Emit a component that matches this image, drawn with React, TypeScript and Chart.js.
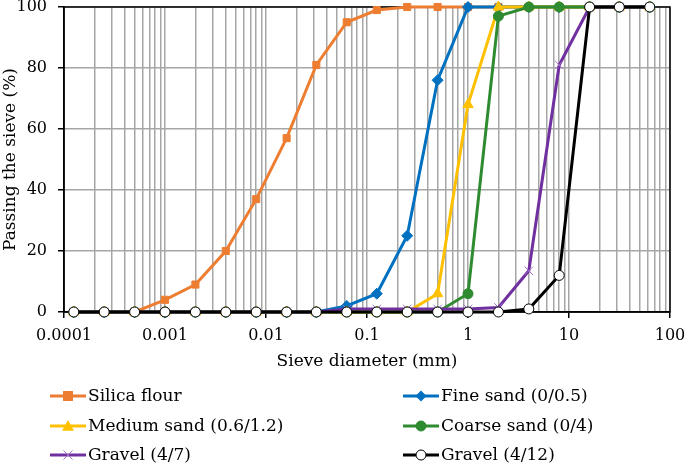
import React, { useEffect, useRef } from "react";
import { Chart, registerables } from "chart.js";

Chart.register(...registerables);

// ---------------- data ----------------
const sieveSizes = [
  0.000125, 0.00025, 0.0005, 0.001, 0.002, 0.004, 0.008, 0.016, 0.0315, 0.063,
  0.125, 0.25, 0.5, 1, 2, 4, 8, 16, 31.5, 63,
];
const seriesNames = [
  "Silica flour",
  "Fine sand (0/0.5)",
  "Medium sand (0.6/1.2)",
  "Coarse sand (0/4)",
  "Gravel (4/7)",
  "Gravel (4/12)",
];
const silicaFlour = [0, 0, 0, 4, 9, 20, 37, 57, 81, 95, 99, 100, 100, 100, 100, 100, 100, 100, 100, 100];
const fineSand = [0, 0, 0, 0, 0, 0, 0, 0, 0, 2, 6, 25, 76, 100, 100, 100, 100, 100, 100, 100];
const mediumSand = [0, 0, 0, 0, 0, 0, 0, 0, 0, 0, 0, 0, 6, 68, 100, 100, 100, 100, 100, 100];
const coarseSand = [0, 0, 0, 0, 0, 0, 0, 0, 0, 0, 0, 0, 0, 6, 97, 100, 100, 100, 100, 100];
const gravel47 = [0, 0, 0, 0, 0, 0, 0, 0, 0, 1, 1, 1, 1, 1, 1.5, 13.5, 81, 100, 100, 100];
const gravel412 = [0, 0, 0, 0, 0, 0, 0, 0, 0, 0, 0, 0, 0, 0, 0, 1, 12, 100, 100, 100];

const xDecades = [0.0001, 0.001, 0.01, 0.1, 1, 10, 100];
const xDecadeLabels = ["0.0001", "0.001", "0.01", "0.1", "1", "10", "100"];
const yTickValues = [0, 20, 40, 60, 80, 100];

const FONT_FAMILY = "'DejaVu Serif', serif";
const GRID = "#a6a6a6";

const isDecade = (v: number) => {
  const l = Math.log10(v);
  return Math.abs(l - Math.round(l)) < 1e-6;
};

const buildXTicks = () => {
  const out: { value: number }[] = [];
  for (let d = 0; d < xDecades.length; d++) {
    const base = xDecades[d];
    if (d === xDecades.length - 1) {
      out.push({ value: base });
      break;
    }
    for (let m = 1; m <= 9; m++) out.push({ value: Number((m * base).toPrecision(4)) });
  }
  return out;
};

const borderPlugin = {
  id: "frameBorder",
  beforeDatasetsDraw(chart: any) {
    const { ctx, chartArea } = chart;
    ctx.save();
    ctx.strokeStyle = "#000";
    ctx.lineWidth = 1.5;
    ctx.strokeRect(chartArea.left, chartArea.top, chartArea.right - chartArea.left, chartArea.bottom - chartArea.top);
    ctx.restore();
  },
};

function drawMarker(ctx: CanvasRenderingContext2D, style: string, x: number, y: number, r: number, fill: string, stroke: string) {
  ctx.save();
  ctx.fillStyle = fill;
  ctx.strokeStyle = stroke;
  ctx.lineWidth = 1;
  ctx.beginPath();
  if (style === "rect") {
    ctx.rect(x - r, y - r, 2 * r, 2 * r);
    ctx.fill();
  } else if (style === "rectRot") {
    ctx.moveTo(x, y - r);
    ctx.lineTo(x + r, y);
    ctx.lineTo(x, y + r);
    ctx.lineTo(x - r, y);
    ctx.closePath();
    ctx.fill();
  } else if (style === "triangle") {
    ctx.moveTo(x, y - r);
    ctx.lineTo(x + r, y + r * 0.8);
    ctx.lineTo(x - r, y + r * 0.8);
    ctx.closePath();
    ctx.fill();
  } else if (style === "crossRot") {
    const d = r * 0.75;
    ctx.moveTo(x - d, y - d);
    ctx.lineTo(x + d, y + d);
    ctx.moveTo(x + d, y - d);
    ctx.lineTo(x - d, y + d);
    ctx.stroke();
  } else {
    ctx.arc(x, y, r, 0, Math.PI * 2);
    ctx.fill();
    ctx.stroke();
  }
  ctx.restore();
}

const legendPlugin = {
  id: "gridLegend",
  afterDraw(chart: any) {
    const { ctx } = chart;
    const cols = [50, 403];
    const rows = [396, 426, 455];
    chart.data.datasets.forEach((ds: any, i: number) => {
      const x = cols[i % 2];
      const y = rows[Math.floor(i / 2)];
      ctx.save();
      ctx.strokeStyle = ds.borderColor;
      ctx.lineWidth = 3;
      ctx.beginPath();
      ctx.moveTo(x, y);
      ctx.lineTo(x + 36, y);
      ctx.stroke();
      drawMarker(ctx, ds.pointStyle, x + 18, y, ds.legendRadius, ds.pointBackgroundColor, ds.pointBorderColor);
      ctx.fillStyle = "#000";
      ctx.font = `17px ${FONT_FAMILY}`;
      ctx.textBaseline = "middle";
      ctx.textAlign = "left";
      ctx.fillText(ds.label, x + 38, y + 1);
      ctx.restore();
    });
  },
};

const styles = [
  { color: "#ED7D31", point: "rect", r: 5, bg: "#ED7D31", pb: "#ED7D31" },
  { color: "#0070C0", point: "rectRot", r: 5.5, bg: "#0070C0", pb: "#0070C0" },
  { color: "#FFC000", point: "triangle", r: 6, bg: "#FFC000", pb: "#FFC000" },
  { color: "#2E8B30", point: "circle", r: 5, bg: "#2E8B30", pb: "#2E8B30" },
  { color: "#7030A0", point: "crossRot", r: 6, bg: "#A070C8", pb: "#A070C8" },
  { color: "#000000", point: "circle", r: 5, bg: "#FFFFFF", pb: "#000000" },
];

const seriesValues = [silicaFlour, fineSand, mediumSand, coarseSand, gravel47, gravel412];

export default function App() {
  const ref = useRef<HTMLCanvasElement | null>(null);

  useEffect(() => {
    document.body.style.margin = "0";
    const canvas = ref.current;
    if (!canvas) return;
    const datasets = seriesValues.map((vals, i) => {
      const s = styles[i];
      return {
        label: seriesNames[i],
        data: sieveSizes.map((x, k) => ({ x, y: vals[k] })),
        borderColor: s.color,
        backgroundColor: s.bg,
        borderWidth: 3,
        pointStyle: s.point,
        pointRadius: s.r,
        legendRadius: s.r,
        pointBackgroundColor: s.bg,
        pointBorderColor: s.pb,
        pointBorderWidth: 1,
        tension: 0,
        clip: false,
        order: seriesValues.length - i,
      };
    });

    const chart = new Chart(canvas, {
      type: "line",
      data: { datasets } as any,
      options: {
        responsive: false,
        animation: false,
        devicePixelRatio: 1,
        layout: { padding: { left: 0, top: 7, right: 15, bottom: 95 } },
        plugins: { legend: { display: false }, tooltip: { enabled: false } },
        scales: {
          x: {
            type: "logarithmic",
            min: 0.0001,
            max: 100,
            afterBuildTicks: (scale: any) => {
              scale.ticks = buildXTicks();
            },
            afterFit: (scale: any) => {
              scale.height = 60;
              scale.paddingLeft = 0;
              scale.paddingRight = 0;
              scale.paddingTop = 0;
              scale.paddingBottom = 0;
            },
            ticks: {
              autoSkip: false,
              maxRotation: 0,
              padding: 8,
              color: "#000",
              font: { family: FONT_FAMILY, size: 16 },
              callback: (value: any) => {
                const v = Number(value);
                const idx = xDecades.findIndex((d) => Math.abs(d - v) / d < 1e-6);
                return idx >= 0 ? xDecadeLabels[idx] : "";
              },
            },
            grid: {
              color: GRID,
              lineWidth: 1.5,
              tickLength: 6,
              tickColor: (ctx: any) => (ctx.tick && isDecade(ctx.tick.value) ? "#000" : "rgba(0,0,0,0)"),
            },
            border: { color: "#000", width: 1.5 },
            title: {
              display: true,
              text: "Sieve diameter (mm)",
              color: "#000",
              font: { family: FONT_FAMILY, size: 17 },
              padding: { top: 4, bottom: 0 },
            },
          },
          y: {
            type: "linear",
            min: 0,
            max: 100,
            afterBuildTicks: (scale: any) => {
              scale.ticks = yTickValues.map((value) => ({ value }));
            },
            afterFit: (scale: any) => {
              scale.width = 64;
              scale.paddingLeft = 0;
              scale.paddingRight = 0;
              scale.paddingTop = 0;
              scale.paddingBottom = 0;
            },
            ticks: {
              padding: 11,
              color: "#000",
              font: { family: FONT_FAMILY, size: 16 },
            },
            grid: {
              color: GRID,
              lineWidth: 1.5,
              tickLength: 6,
              tickColor: "#000",
            },
            border: { color: "#000", width: 1.5 },
            title: {
              display: true,
              text: "Passing the sieve (%)",
              color: "#000",
              font: { family: FONT_FAMILY, size: 17 },
              padding: { top: 0, bottom: 3 },
            },
          },
        },
      } as any,
      plugins: [borderPlugin, legendPlugin],
    });
    return () => chart.destroy();
  }, []);

  return (
    <div style={{ width: 685, height: 467 }}>
      <canvas ref={ref} width={685} height={467} style={{ display: "block" }} />
    </div>
  );
}
